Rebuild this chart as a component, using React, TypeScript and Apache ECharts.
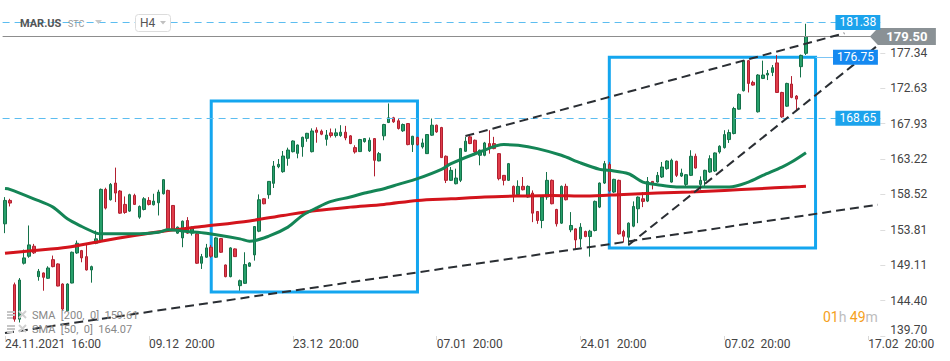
import React, { useEffect, useRef } from "react";
import * as echarts from "echarts";

// ---------- data ----------
const xTickIdx = [0, 30, 60, 90, 120, 150, 180];
const xTickLabels = ["24.11.2021  16:00", "09.12  20:00", "23.12  20:00", "07.01  20:00", "24.01  20:00", "07.02  20:00", "17.02  20:00"];
const categoryCount = 183;
const yTickLabels = ["139.70", "144.40", "149.11", "153.81", "158.52", "163.22", "167.93", "172.63", "177.34"];
const yMin = 139.7;
const yMax = 184.36;

// [open, close, low, high]
const candleOCLH = [
  [154.61, 157.72, 153.37, 158.16], [157.72, 157.37, 156.92, 157.94], [146.52, 141.94, 141.6, 146.8], [141.94, 147.14, 141.5, 147.4],
  [149.37, 150.08, 149.2, 151.19], [150.3, 151.81, 150.1, 154.39], [151.63, 150.75, 150.6, 151.94], [147.59, 148.3, 147.05, 148.61],
  [148.08, 147.5, 145.72, 148.15], [147.37, 148.74, 147.28, 148.97], [149.85, 148.92, 148.83, 150.39], [149.28, 146.34, 146.3, 149.36],
  [146.61, 143.28, 143.14, 146.7], [143.05, 146.61, 143.05, 146.7], [146.74, 150.83, 146.7, 150.92], [150.74, 152.03, 150.61, 152.39],
  [151.05, 150.08, 149.5, 151.14], [150.25, 148.48, 148.4, 151.81], [148.48, 148.92, 146.79, 149.05], [152.03, 152.61, 151.9, 153.72],
  [152.39, 159.19, 152.3, 159.3], [159.19, 156.7, 156.52, 159.41], [157.81, 159.85, 157.7, 160.03], [160.03, 158.7, 157.5, 162.08],
  [158.97, 156.03, 155.94, 159.1], [157.19, 156.12, 155.94, 158.25], [156.3, 158.48, 156.2, 158.61], [158.39, 157.19, 157.14, 158.61],
  [155.5, 156.92, 155.28, 157.05], [156.52, 157.94, 156.39, 158.16], [157.72, 157.19, 157.05, 158.16], [157.14, 157.63, 157.05, 158.61],
  [157.41, 158.83, 155.72, 159.14], [158.61, 160.48, 158.5, 160.56], [159.05, 153.94, 153.81, 159.15], [157.05, 153.94, 153.72, 157.1],
  [153.37, 154.17, 153.28, 154.25], [152.74, 154.96, 151.5, 155.05], [155.05, 153.37, 153.28, 155.5], [153.37, 154.17, 153.05, 154.25],
  [153.28, 149.37, 149.28, 153.4], [149.37, 150.25, 148.61, 150.61], [150.17, 151.41, 150.1, 151.94], [151.5, 150.3, 150.1, 151.8],
  [150.17, 152.74, 150.08, 152.83], [152.65, 150.83, 150.74, 152.74], [149.14, 147.59, 147.5, 149.2], [147.59, 151.41, 147.5, 151.5],
  [151.28, 150.25, 150.2, 151.35], [146.39, 147.05, 145.72, 147.2], [146.7, 149.19, 146.61, 150.83], [148.97, 149.41, 148.9, 149.5],
  [150.48, 154.25, 149.72, 154.3], [153.63, 157.81, 153.5, 158.52], [157.94, 157.28, 157.2, 158.0], [158.48, 160.25, 157.94, 160.3],
  [159.99, 162.29, 159.37, 162.96], [162.2, 162.52, 162.0, 163.22], [161.54, 163.62, 161.4, 164.29], [163.32, 164.42, 162.33, 164.73],
  [164.2, 165.62, 164.1, 165.7], [163.98, 165.09, 163.32, 165.15], [164.86, 166.11, 163.53, 166.2], [165.97, 166.64, 165.52, 166.7],
  [164.2, 166.95, 164.1, 167.3], [167.08, 166.77, 165.39, 167.44], [166.92, 166.52, 166.39, 167.14], [165.84, 166.41, 165.0, 167.08],
  [166.7, 166.34, 166.08, 167.28], [166.34, 166.7, 166.08, 167.28], [166.34, 166.79, 166.17, 167.72], [166.79, 166.03, 165.72, 167.63],
  [166.3, 165.28, 165.2, 166.4], [164.74, 164.16, 163.94, 165.05], [164.21, 165.81, 164.16, 165.9], [165.54, 165.94, 165.4, 166.0],
  [164.3, 165.72, 164.16, 166.08], [165.94, 163.05, 160.92, 166.0], [162.97, 163.94, 162.92, 164.16], [166.3, 167.81, 165.72, 167.9],
  [168.08, 168.7, 168.0, 170.61], [168.7, 168.17, 168.03, 168.83], [168.3, 167.28, 167.14, 168.61], [166.97, 167.81, 166.83, 167.94],
  [167.94, 165.14, 165.05, 168.0], [165.14, 166.25, 164.16, 166.3], [166.08, 165.14, 165.0, 166.2], [164.83, 165.36, 164.61, 165.94],
  [163.94, 166.48, 163.9, 166.5], [166.39, 167.72, 166.3, 168.61], [167.72, 166.83, 166.7, 167.8], [167.41, 163.41, 163.4, 167.5],
  [163.59, 160.39, 160.03, 163.7], [160.39, 161.72, 160.3, 162.16], [159.94, 160.7, 159.85, 161.94], [160.39, 164.61, 160.16, 164.7],
  [164.25, 165.59, 164.16, 166.17], [166.17, 165.28, 165.2, 166.39], [165.72, 164.16, 163.72, 165.81], [163.72, 164.39, 162.39, 164.48],
  [163.72, 165.36, 163.59, 165.5], [165.27, 164.83, 163.94, 167.05], [165.27, 164.61, 164.52, 166.17], [163.94, 160.61, 160.39, 164.0],
  [161.05, 160.39, 159.72, 161.1], [160.39, 162.61, 160.3, 162.7], [159.59, 158.48, 157.5, 159.7], [158.48, 159.59, 158.4, 160.39],
  [159.59, 159.14, 159.05, 160.83], [158.17, 159.59, 158.08, 159.72], [158.7, 156.03, 154.83, 159.05], [156.25, 155.05, 154.61, 156.3],
  [155.05, 158.17, 154.03, 158.2], [158.17, 160.39, 157.81, 161.5], [160.39, 157.28, 157.2, 160.5], [156.52, 154.61, 154.25, 156.6],
  [154.7, 159.59, 154.6, 159.7], [159.59, 157.81, 157.72, 159.94], [153.81, 154.39, 153.5, 156.17], [153.94, 152.47, 151.14, 154.0],
  [152.61, 154.16, 151.5, 154.7], [153.59, 152.92, 152.83, 153.7], [152.92, 153.63, 150.25, 153.81], [153.72, 157.59, 153.6, 157.7],
  [156.83, 160.03, 156.7, 160.1], [160.03, 162.61, 159.9, 162.97], [162.5, 159.0, 158.8, 162.8], [158.83, 160.52, 158.7, 160.6],
  [160.39, 153.27, 153.19, 160.48], [153.59, 152.96, 152.16, 153.81], [152.83, 154.7, 151.72, 154.8], [154.3, 156.92, 154.16, 157.59],
  [156.61, 158.16, 154.7, 158.25], [157.94, 157.59, 156.83, 158.83], [157.63, 160.25, 157.5, 160.83], [160.25, 159.94, 159.19, 160.3],
  [160.16, 161.05, 160.08, 161.5], [160.83, 162.16, 160.7, 162.83], [161.94, 162.96, 161.8, 163.05], [160.16, 163.05, 160.08, 163.27],
  [162.92, 161.05, 160.83, 163.0], [160.96, 161.36, 160.83, 161.94], [159.85, 161.14, 159.59, 161.2], [161.05, 163.59, 160.96, 164.39],
  [163.59, 162.03, 161.94, 163.94], [159.85, 160.39, 159.14, 160.92], [160.39, 161.72, 159.5, 161.8], [161.5, 163.27, 161.4, 163.72],
  [161.63, 164.03, 161.5, 164.1], [164.16, 164.92, 163.94, 165.05], [164.74, 166.47, 164.61, 167.05], [165.81, 166.74, 165.36, 167.14],
  [166.61, 169.94, 166.5, 170.16], [169.85, 171.81, 169.8, 171.94], [172.3, 176.3, 172.2, 176.39], [176.3, 173.27, 172.07, 176.39],
  [173.41, 173.05, 172.97, 173.63], [169.5, 174.39, 169.4, 174.5], [173.94, 174.39, 173.85, 176.3], [174.39, 174.61, 173.72, 175.05],
  [174.74, 175.36, 174.25, 175.72], [176.0, 172.07, 172.03, 177.05], [172.07, 168.83, 168.7, 172.16], [170.25, 173.27, 170.16, 173.36],
  [173.19, 171.41, 171.3, 174.25], [171.59, 171.19, 169.63, 171.72], [175.5, 177.0, 174.07, 177.1], [177.27, 179.5, 177.05, 181.2],
];

// [candle index, value]
const sma50Points = [
  [0, 159.3], [1, 159.2], [6, 157.94], [10, 156.83], [13, 155.28], [16, 154.25], [19, 153.37], [20, 153.28], [27, 153.28],
  [32, 153.5], [34, 153.81], [38, 153.59], [42, 153.37], [49, 152.61], [51, 152.3], [55, 152.97], [59, 154.17], [62, 155.72],
  [65, 156.74], [68, 157.59], [72, 158.17], [75, 158.7], [79, 159.28], [82, 159.85], [86, 160.61], [91, 161.85], [93, 162.61],
  [99, 164.16], [104, 165.14], [107, 165.05], [111, 164.61], [116, 163.72], [120, 162.7], [124, 161.85], [126, 161.72],
  [130, 161.27], [133, 160.16], [136, 159.81], [140, 159.5], [144, 159.5], [151, 159.5], [155, 160.16], [158, 161.05],
  [162, 162.16], [164, 162.83], [167, 164.07],
];
const sma200Points = [
  [0, 150.7], [6, 151.05], [13, 151.5], [20, 152.3], [27, 153.05], [34, 153.72], [41, 154.25], [51, 155.0], [58, 155.72],
  [65, 156.39], [72, 156.83], [79, 157.19], [86, 157.72], [93, 157.94], [100, 158.17], [107, 158.3], [114, 158.39],
  [121, 158.3], [129, 158.52], [136, 158.7], [143, 158.83], [150, 159.05], [157, 159.28], [164, 159.5], [167, 159.61],
];

const alertLevels = [181.38, 168.65];
const lastPrice = 179.5;
const boxTopLevel = 176.75;
const boxTopRange = [169, 182];
// rectangles: [[x0, yTop], [x1, yBottom]]
const rectangles = [
  [[43, 170.93], [86, 145.55]],
  [[126, 176.75], [169, 151.4]],
];
// trend lines: [[x0, y0], [x1, y1]]
const trendLines = [
  [[0, 140.1], [182, 157.15]],
  [[96, 166.28], [175, 179.94]],
  [[130, 151.79], [182, 178.34]],
];
const legendTexts = ["SMA  [200,  0]  159.61", "SMA  [50,  0]  164.07"];

const categories = Array.from({ length: categoryCount }, (_, i) => String(i));
const yTickVals = yTickLabels.map(Number);

export default function App() {
  const ref = useRef<HTMLDivElement>(null);
  useEffect(() => {
    if (!ref.current) return;
    const chart = echarts.init(ref.current, null, { renderer: "svg" });
    const blueBox = (text: string, bg: string) => ({
      show: true,
      position: "insideEnd",
      distance: 0,
      color: "#fff",
      fontSize: 12,
      fontFamily: "Roboto",
      padding: [2, 4, 1, 4],
      backgroundColor: bg,
      formatter: () => text,
    });
    const icon = (y: number) => [
      { type: "rect", shape: { x: 7, y: y - 4, width: 8, height: 2 }, style: { fill: "#c6c6c6" }, z: 100 },
      { type: "rect", shape: { x: 7, y: y - 1, width: 8, height: 2 }, style: { fill: "#c6c6c6" }, z: 100 },
      { type: "rect", shape: { x: 7, y: y + 2, width: 6, height: 2 }, style: { fill: "#c6c6c6" }, z: 100 },
      { type: "line", shape: { x1: 19, y1: y - 4, x2: 26, y2: y + 3 }, style: { stroke: "#d0d0d0", lineWidth: 2 }, z: 100 },
      { type: "line", shape: { x1: 26, y1: y - 4, x2: 19, y2: y + 3 }, style: { stroke: "#d0d0d0", lineWidth: 2 }, z: 100 },
    ];
    const option: any = {
      animation: false,
      backgroundColor: "#fff",
      textStyle: { fontFamily: "Roboto" },
      grid: { left: 2.6, right: 69.7, top: 0, bottom: 25, containLabel: false },
      xAxis: {
        type: "category",
        data: categories,
        boundaryGap: true,
        axisLine: { show: false },
        splitLine: { show: false },
        axisTick: {
          show: true,
          alignWithLabel: true,
          length: 4,
          interval: (i: number) => xTickIdx.includes(i),
          lineStyle: { color: "#d8d8d8" },
        },
        axisLabel: {
          interval: (i: number) => xTickIdx.includes(i),
          formatter: (_v: string, i: number) => {
            const k = xTickIdx.indexOf(i);
            return k >= 0 ? xTickLabels[k] : "";
          },
          align: "left",
          color: "#444",
          fontSize: 12,
          margin: 2,
        },
      },
      yAxis: {
        type: "value",
        position: "right",
        min: yMin,
        max: yMax,
        scale: true,
        splitLine: { show: false },
        axisLine: { show: false },
        axisTick: { show: true, length: 5, lineStyle: { color: "#dddddd" }, customValues: yTickVals },
        axisLabel: {
          customValues: yTickVals,
          margin: 10,
          color: "#444",
          fontSize: 12,
          formatter: (v: number) => {
            const k = yTickVals.findIndex((t) => Math.abs(t - v) < 0.01);
            if (k < 0) return "";
            return k === 0 ? "{b|" + yTickLabels[k] + "}" : yTickLabels[k];
          },
          rich: { b: { fontSize: 12, color: "#444", padding: [0, 0, 12, 0] } },
        },
      },
      series: [
        {
          type: "candlestick",
          data: candleOCLH,
          barWidth: 3,
          itemStyle: {
            color: "#27a06b",
            color0: "#e03c4a",
            borderColor: "#147149",
            borderColor0: "#b22030",
            borderWidth: 1,
          },
          markArea: {
            silent: true,
            label: { show: false },
            itemStyle: { color: "rgba(0,0,0,0)", borderColor: "#14a6ef", borderWidth: 3 },
            data: rectangles.map((r) => [{ coord: r[0] }, { coord: r[1] }]),
          },
          markLine: {
            silent: true,
            symbol: ["none", "none"],
            data: [
              ...alertLevels.map((v) => ({
                yAxis: v,
                lineStyle: { type: [7, 5], color: "#5cbdf0", width: 1 },
                label: blueBox(v.toFixed(2), "#1ca3ec"),
              })),
              {
                yAxis: lastPrice,
                lineStyle: { type: "solid", color: "#8d8d8d", width: 1 },
                label: { show: false },
              },
              [
                { coord: [boxTopRange[0], boxTopLevel] },
                {
                  coord: [boxTopRange[1], boxTopLevel],
                  lineStyle: { type: "solid", color: "#7cc4f4", width: 1 },
                  label: blueBox(boxTopLevel.toFixed(2), "#1589f0"),
                },
              ],
              ...trendLines.map((t) => [
                { coord: t[0] },
                { coord: t[1], lineStyle: { type: [9, 5], color: "#2a2e33", width: 2 }, label: { show: false } },
              ]),
            ],
          },
          markPoint: {
            silent: true,
            data: [
              {
                coord: [182, lastPrice],
                symbol: "path://M0,8.5 L8,0 L66,0 L66,17 L8,17 Z",
                symbolSize: [66, 17],
                symbolOffset: [25, 0],
                itemStyle: { color: "#8a9195" },
                label: {
                  show: true,
                  position: "inside",
                  offset: [4, 0],
                  formatter: () => lastPrice.toFixed(2),
                  color: "#fff",
                  fontWeight: "bold",
                  fontSize: 13,
                  fontFamily: "Roboto",
                },
              },
            ],
          },
        },
        {
          type: "line",
          name: "SMA200",
          data: sma200Points,
          showSymbol: false,
          smooth: 0.3,
          lineStyle: { color: "#d3141c", width: 3 },
          z: 3,
        },
        {
          type: "line",
          name: "SMA50",
          data: sma50Points,
          showSymbol: false,
          smooth: 0.3,
          lineStyle: { color: "#148556", width: 3 },
          z: 3,
        },
      ],
      graphic: [
        { type: "text", x: 20, y: 23, z: 100, style: { text: "MAR.US", fill: "#555", fontSize: 11, fontWeight: "bold", fontFamily: "Roboto", verticalAlign: "middle" } },
        { type: "text", x: 68, y: 24, z: 100, style: { text: "STC", fill: "#9a9a9a", fontSize: 9, fontFamily: "Roboto", verticalAlign: "middle" } },
        { type: "polygon", z: 100, shape: { points: [[95, 20], [102, 20], [98.5, 24]] }, style: { fill: "#c8c8c8" } },
        { type: "rect", z: 100, shape: { x: 135.5, y: 14.5, width: 35, height: 17, r: 3 }, style: { fill: "#fff", stroke: "#dcdcdc", lineWidth: 1 } },
        { type: "text", x: 140, y: 23, z: 101, style: { text: "H4", fill: "#555", fontSize: 12, fontFamily: "Roboto", verticalAlign: "middle" } },
        { type: "polygon", z: 101, shape: { points: [[160, 21], [166, 21], [163, 24.5]] }, style: { fill: "#c0c0c0" } },
        ...icon(315),
        ...icon(329),
        { type: "text", x: 32, y: 315, z: 100, style: { text: legendTexts[0], fill: "#888", fontSize: 11, fontFamily: "Roboto", verticalAlign: "middle" } },
        { type: "text", x: 32, y: 329, z: 100, style: { text: legendTexts[1], fill: "#888", fontSize: 11, fontFamily: "Roboto", verticalAlign: "middle" } },
        {
          type: "text",
          x: 823,
          y: 317,
          z: 100,
          style: {
            text: "{o|01}{g|h} {o|49}{g|m}",
            verticalAlign: "middle",
            rich: {
              o: { fill: "#f5a020", fontSize: 14, fontFamily: "Roboto" },
              g: { fill: "#bdbdbd", fontSize: 14, fontFamily: "Roboto" },
            },
          },
        },
      ],
    };
    chart.setOption(option);
    return () => chart.dispose();
  }, []);
  return (
    <div
      ref={ref}
      style={{ position: "fixed", left: 0, top: 0, width: 950, height: 361, background: "#fff" }}
    />
  );
}
